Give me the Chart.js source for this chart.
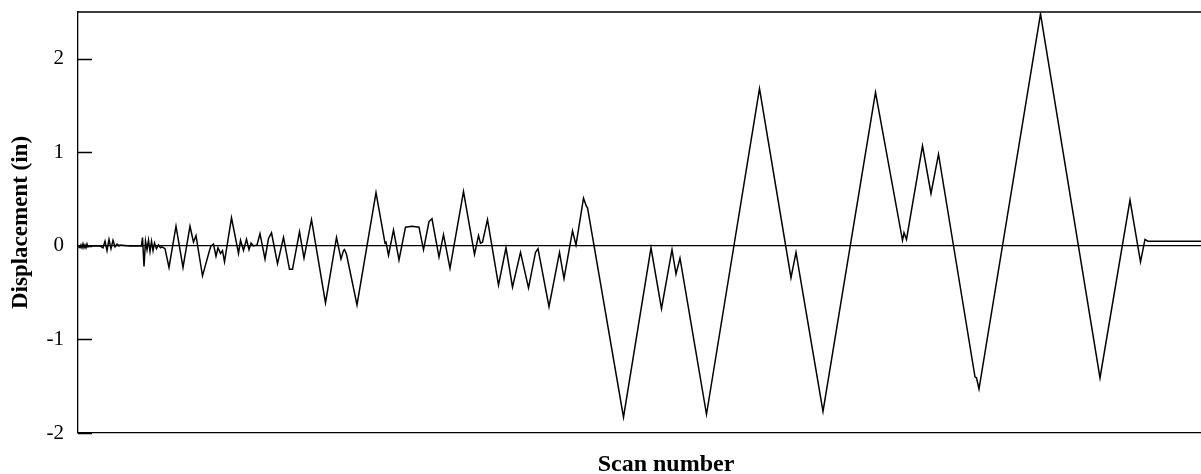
<!DOCTYPE html>
<html>
<head>
<meta charset="utf-8">
<title>Displacement history</title>
<script src="https://cdn.jsdelivr.net/npm/chart.js@4/dist/chart.umd.min.js"></script>
<style>
  html, body { margin: 0; padding: 0; background: #fff; overflow: hidden; }
  /* plot box runs past the right edge of the window */
  #wrap { width: 1254px; height: 474px; position: relative; }
</style>
</head>
<body>
<div id="wrap"><canvas id="dispChart"></canvas></div>
<script>
// Scan numbers at each recorded turning point of the loading history
const scans = [
  0, 4, 6, 8, 10, 12, 14, 16, 18, 20, 24, 44, 50, 54, 58, 62, 66, 70, 74, 78,
  82, 84, 104, 127, 129, 132, 135, 138, 141, 144, 147, 150, 153, 157, 161, 165,
  168, 174, 182, 196, 210, 224, 231, 236, 249, 263, 266, 271, 276, 280, 285, 289, 293, 307, 321, 325,
  331, 337, 342, 346, 351, 358, 364, 374, 381, 387, 399, 411, 423, 429, 443, 452, 467, 495, 517, 526,
  531, 533, 537, 558, 596, 614, 616, 621, 631, 642, 655, 668, 682, 691, 702, 708, 722, 731, 744, 771,
  793, 801, 805, 809, 819, 841, 856, 869, 885, 901, 915, 920, 942, 963, 972, 989, 996, 1011, 1017, 1019,
  1091, 1146, 1167, 1188, 1196, 1204, 1257, 1363, 1426, 1436, 1490, 1595, 1649, 1652, 1657, 1689, 1706, 1721, 1794, 1797,
  1802, 1925, 2044, 2104, 2125, 2134, 2137, 2140, 2352
];

// Displacement (in) at those scans
const displacement = [
  0, -0.02, 0.01, -0.02, 0.02, -0.02, 0.01, -0.02, 0.02, -0.01, 0, 0, -0.02, 0.05, -0.05, 0.07, -0.03, 0.06, -0.01, 0.02,
  0, 0.01, 0, 0, 0.09, -0.22, 0.05, -0.04, 0.06, -0.06, 0.05, -0.05, 0.03, -0.03, 0.01, -0.02,
  -0.01, -0.03, -0.23, 0.21, -0.23, 0.21, 0.04, 0.11, -0.32, -0.05, 0.0, 0.02, -0.11, -0.02, -0.08, -0.05, -0.17, 0.30, -0.08, 0.06,
  -0.05, 0.07, -0.04, 0.03, 0.0, 0.01, 0.13, -0.14, 0.08, 0.14, -0.19, 0.09, -0.25, -0.25, 0.15, -0.13, 0.28, -0.61, 0.09, -0.14,
  -0.05, -0.04, -0.09, -0.63, 0.57, 0.03, 0.04, -0.10, 0.17, -0.15, 0.20, 0.21, 0.20, -0.04, 0.26, 0.29, -0.12, 0.12, -0.24, 0.58,
  -0.09, 0.11, 0.03, 0.04, 0.28, -0.42, -0.02, -0.44, -0.07, -0.45, -0.07, -0.03, -0.65, -0.07, -0.35, 0.16, 0.01, 0.51, 0.42, 0.41,
  -1.83, -0.02, -0.67, -0.04, -0.30, -0.13, -1.80, 1.68, -0.34, -0.07, -1.77, 1.64, 0.06, 0.14, 0.07, 1.07, 0.56, 0.98, -1.40, -1.41,
  -1.53, 2.48, -1.41, 0.49, -0.17, 0.07, 0.06, 0.05, 0.05
];

const yTickValues = [-2, -1, 0, 1, 2];

const serif = "'Liberation Serif', 'Times New Roman', serif";

// top frame edge plus short inward tick marks on the left axis
const frameAndTicks = {
  id: 'frameAndTicks',
  afterDraw(chart) {
    const { ctx, chartArea } = chart;
    const yScale = chart.scales.y;
    ctx.save();
    ctx.strokeStyle = '#000';
    ctx.lineWidth = 1.3;
    ctx.beginPath();
    ctx.moveTo(chartArea.left, chartArea.top);
    ctx.lineTo(chartArea.right, chartArea.top);
    yTickValues.forEach(v => {
      const py = Math.round(yScale.getPixelForValue(v)) + 0.5;
      ctx.moveTo(chartArea.left, py);
      ctx.lineTo(chartArea.left + 14, py);
    });
    ctx.stroke();
    ctx.restore();
  }
};

new Chart(document.getElementById('dispChart'), {
  type: 'line',
  data: {
    datasets: [{
      data: scans.map((s, i) => ({ x: s, y: displacement[i] })),
      borderColor: '#000',
      borderWidth: 1.5,
      pointRadius: 0,
      tension: 0,
      fill: false
    }]
  },
  options: {
    responsive: true,
    maintainAspectRatio: false,
    animation: false,
    layout: { padding: { top: 12, right: 0, bottom: 0, left: 0 } },
    plugins: {
      legend: { display: false },
      tooltip: { enabled: false }
    },
    scales: {
      x: {
        type: 'linear',
        min: 0,
        max: 2352,
        ticks: { display: false },
        grid: { display: false },
        border: { display: true, color: '#000', width: 1.3 },
        title: {
          display: true,
          text: 'Scan number',
          color: '#000',
          font: { family: serif, size: 24, weight: 'bold' },
          padding: { top: 0, bottom: -5 }
        },
        afterFit(scale) { scale.height = 41; }
      },
      y: {
        min: -2,
        max: 2.5,
        afterBuildTicks(scale) {
          scale.ticks = yTickValues.map(v => ({ value: v }));
        },
        ticks: {
          color: '#000',
          padding: 14,
          font: { family: serif, size: 21 },
          callback: v => String(v)
        },
        grid: {
          drawTicks: false,
          lineWidth: 1.2,
          color: ctx => (ctx.tick && ctx.tick.value === 0 ? '#000' : 'rgba(0,0,0,0)')
        },
        border: { display: true, color: '#000', width: 1.3 },
        title: {
          display: true,
          text: 'Displacement (in)',
          color: '#000',
          font: { family: serif, size: 23, weight: 'bold' },
          padding: { top: 7, bottom: 0 }
        },
        afterFit(scale) {
          scale.width = 78;
          scale.paddingTop = 0;
          scale.paddingBottom = 0;
        }
      }
    }
  },
  plugins: [frameAndTicks]
});
</script>
</body>
</html>
